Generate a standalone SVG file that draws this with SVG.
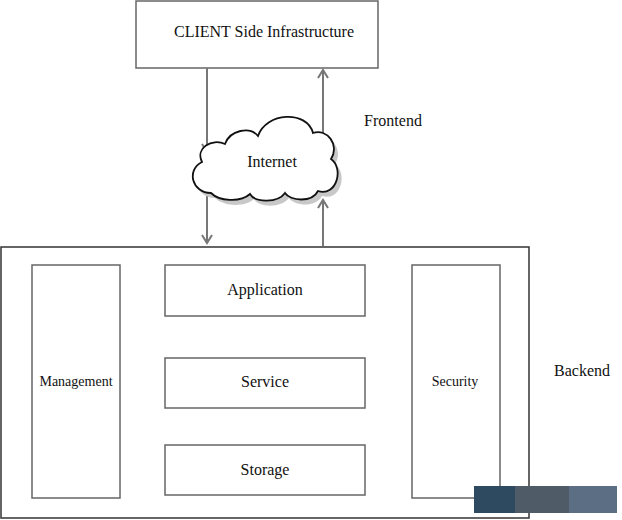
<svg xmlns="http://www.w3.org/2000/svg" width="622" height="520" viewBox="0 0 622 520">
<style>
.box{fill:#fff;stroke:#666;stroke-width:1.5}
.outer{fill:#fff;stroke:#333;stroke-width:1.5}
.t{font-size:16px;fill:#111;text-anchor:middle;dominant-baseline:central}
.s{font-size:14px}
.c{stroke:#777;stroke-width:2;fill:none;marker-end:url(#ah)}
</style>
<defs>
<marker id="ah" viewBox="0 0 12 12" refX="10" refY="6" markerWidth="12" markerHeight="12" markerUnits="userSpaceOnUse" orient="auto">
<path d="M2,1 L10,6 L2,11" fill="none" stroke="#777" stroke-width="2"/>
</marker>
</defs>
<rect width="622" height="520" fill="#fff"/>
<g font-family="Liberation Serif, Times New Roman, serif">
<g id="backend">
<rect class="outer" x="1" y="247" width="528" height="271"/>
</g>
<g id="client">
<rect class="box" x="136" y="1" width="242" height="67"/>
<text class="t" x="264" y="31">CLIENT Side Infrastructure</text>
</g>
<g id="connectors">
<line class="c" x1="207" y1="68" x2="207" y2="152"/>
<line class="c" x1="323" y1="142" x2="323" y2="70"/>
<line class="c" x1="207" y1="195" x2="207" y2="243"/>
<line class="c" x1="323" y1="246" x2="323" y2="200"/>
</g>
<g id="internet">
<path d="M211,193 C192,193 186,170 202,162 C195,148 212,138 225,144 C230,130 250,126 258,136 C266,112 307,110 313,133 C327,128 340,145 331,159 C344,168 337,197 318,191 C312,203 290,201 285,193 C278,203 255,203 250,194 C240,203 219,201 211,193 Z" fill="#c8c8c8" transform="translate(4,5)"/>
<path d="M211,193 C192,193 186,170 202,162 C195,148 212,138 225,144 C230,130 250,126 258,136 C266,112 307,110 313,133 C327,128 340,145 331,159 C344,168 337,197 318,191 C312,203 290,201 285,193 C278,203 255,203 250,194 C240,203 219,201 211,193 Z" fill="#fff" stroke="#111" stroke-width="1.8"/>
<text class="t" x="272" y="161">Internet</text>
</g>
<g id="management">
<rect class="box" x="32" y="265" width="88" height="233"/>
<text class="t s" x="76" y="381">Management</text>
</g>
<g id="application">
<rect class="box" x="165" y="265" width="200" height="51"/>
<text class="t" x="265" y="289">Application</text>
</g>
<g id="service">
<rect class="box" x="165" y="358" width="200" height="50"/>
<text class="t" x="265" y="381">Service</text>
</g>
<g id="storage">
<rect class="box" x="165" y="445" width="200" height="50"/>
<text class="t" x="265" y="469">Storage</text>
</g>
<g id="security">
<rect class="box" x="412" y="265" width="88" height="233"/>
<text class="t s" x="455" y="381">Security</text>
</g>
<text class="t" x="393" y="120">Frontend</text>
<text class="t" x="582" y="370">Backend</text>
</g>
<rect x="474" y="486" width="41" height="27" fill="#2d4a60"/>
<rect x="515" y="486" width="54" height="27" fill="#4f5b67"/>
<rect x="569" y="486" width="48" height="27" fill="#5b6e83"/>
</svg>
